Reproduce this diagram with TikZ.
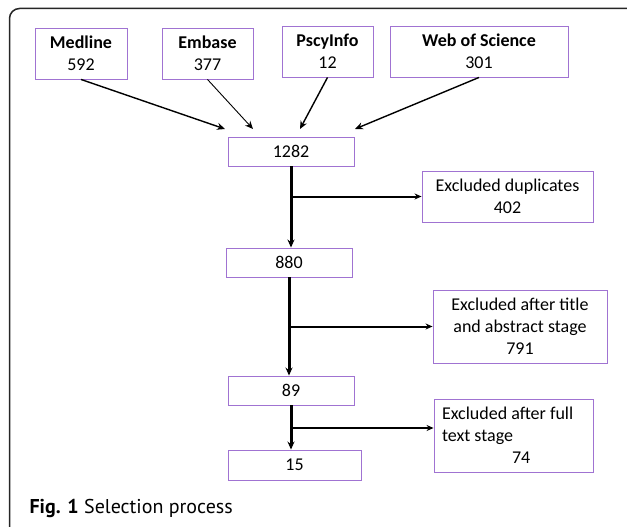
\documentclass[tikz,border=0pt]{standalone}
\usepackage{fontspec}
\setmainfont{Carlito}
\newfontfamily\capfont{PT Sans}
\usetikzlibrary{arrows.meta}
\definecolor{boxpurple}{RGB}{160,115,210}

\tikzset{
  box/.style={draw=boxpurple, line width=0.9pt, inner sep=0pt, align=center,
              font=\fontsize{18}{22}\selectfont},
  feed/.style={-{Stealth[length=8pt,width=7pt]}, line width=1.4pt},
  flow/.style={-{Stealth[length=8pt,width=7pt]}, line width=3pt},
  side/.style={-{Stealth[length=7pt,width=6pt]}, line width=2pt}
}

\begin{document}
\begin{tikzpicture}[x=1pt,y=-1pt]
  \useasboundingbox (0,0) rectangle (627,527);
  % outer frame
  \draw[rounded corners=10pt, line width=1.5pt, black!85] (9.5,8.5) rectangle (660,545);

  % databases
  \node[box, minimum width=92pt, minimum height=51pt] (medline) at (81,53.5) {\textbf{Medline}\\592};
  \node[box, minimum width=91pt, minimum height=51pt] (embase) at (207.5,53.5) {\textbf{Embase}\\377};
  \node[box, minimum width=91pt, minimum height=51pt] (pscy) at (327.5,51.5) {\textbf{PscyInfo}\\12};
  \node[box, minimum width=178pt, minimum height=51pt] (wos) at (479,51.5) {\textbf{Web of Science}\\301};

  % main column
  \node[box, minimum width=126pt, minimum height=29pt] (n1282) at (291,151.5) {1282};
  \node[box, minimum width=126pt, minimum height=29pt] (n880) at (289,262.5) {880};
  \node[box, minimum width=126pt, minimum height=29pt] (n89) at (291,390.5) {89};
  \node[box, minimum width=133pt, minimum height=30pt] (n15) at (294.5,465) {15};

  % exclusions
  \node[box, minimum width=171pt, minimum height=51pt] (dup) at (507.5,196.5) {Excluded duplicates\\402};
  \node[box, minimum width=174pt, minimum height=73pt] (title) at (520,326.5) {Excluded after title\\and abstract stage\\791};
  \node[box, minimum width=159pt, minimum height=73pt, align=flush left, text width=143pt] (full) at (513.5,435.5)
    {Excluded after full\\text stage\\\hspace*{70pt}74};

  % arrow ends above 1282
  \coordinate (in1) at (225,129);
  \coordinate (in2) at (253,129);
  \coordinate (in3) at (300,129);
  \coordinate (in4) at (355,129);
  \draw[feed] (medline.south) -- (in1);
  \draw[feed, line width=0.9pt] (embase.south) -- (in2);
  \draw[feed] (pscy.south) -- (in3);
  \draw[feed] (wos.south) -- (in4);

  \draw[flow] (n1282.south) -- (n1282.south |- n880.north);
  \draw[side] (n1282.south |- dup.west) -- (dup.west);

  \draw[flow] (n880.south) -- (n880.south |- n89.north);
  \draw[side] (n880.south |- title.west) -- (title.west);

  \coordinate (b3) at (291,428);
  \draw[flow] (n89.south) -- (n89.south |- n15.north);
  \draw[side] (b3) -- (b3 -| full.west);

  \node[anchor=base west, font=\capfont\fontsize{20}{24}\selectfont] (cap) at (26,513)
    {\textbf{Fig. 1} Selection process};
\end{tikzpicture}
\end{document}
